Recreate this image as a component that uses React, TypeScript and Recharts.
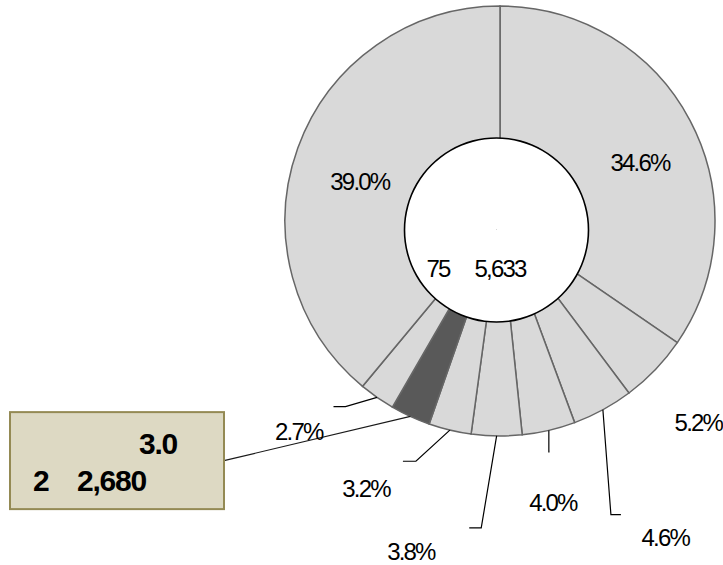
import { PieChart, Pie, Cell } from "recharts";

// share of each segment, clockwise from 12 o'clock
const SHARES = [34.6, 5.2, 4.6, 4.0, 3.8, 3.2, 3.0, 2.7, 39.0];
const HIGHLIGHT = 6;
const CENTER_TEXT = ["75", "5,633"];
const CALLOUT_TOP = "3.0";
const CALLOUT_BOTTOM = ["2", "2,680"];
const HOLE = [1];

const data = SHARES.map((v, i) => ({ name: `s${i + 1}`, value: v }));
const holeData = HOLE.map((v) => ({ name: "hole", value: v }));

const FONT = "'Liberation Sans', Arial, sans-serif";
const LIGHT = "#d9d9d9";
const DARK = "#595959";

// label placement, relative to slice middle: r = fraction of outer radius, da = degrees clockwise
type Place = { r: number; da: number; elbow?: [number, number]; tail?: number } | null;
const PLACES: Place[] = [
  { r: 0.705, da: 5.2 },
  { r: 1.316, da: 1.7 },
  { r: 1.66, da: 1, elbow: [1.46, 7.9], tail: 10 },
  { r: 1.334, da: 2.5, elbow: [1.1, 1.2] },
  { r: 1.591, da: 14.2, elbow: [1.43, 2.6], tail: -12 },
  { r: 1.392, da: 13.1, elbow: [1.184, 5.8], tail: -13 },
  null,
  { r: 1.355, da: 8.8, elbow: [1.123, 4.9], tail: -12 },
  { r: 0.677, da: -4.2 },
];

// callout box for the highlighted slice
const BOX_W = 214;
const BOX_H = 97;
const BOX_ANCHOR = { r: 1.7, da: 24.4 };

const polar = (cx: number, cy: number, R: number, a: number) => {
  const t = (a * Math.PI) / 180;
  return { x: cx + R * Math.sin(t), y: cy - R * Math.cos(t) };
};

const renderLabel = (p: any) => {
  const { cx, cy, outerRadius, midAngle, index, value } = p;
  const a = 90 - midAngle; // clockwise from top
  const start = polar(cx, cy, outerRadius, a);

  if (index === HIGHLIGHT) {
    const end = polar(cx, cy, outerRadius * BOX_ANCHOR.r, a + BOX_ANCHOR.da);
    const bx = end.x - BOX_W;
    const by = end.y - BOX_H / 2;
    return (
      <g key={`l${index}`}>
        <line x1={start.x} y1={start.y} x2={end.x} y2={end.y} stroke="#1a1a1a" strokeWidth={1.2} />
        <rect x={bx} y={by} width={BOX_W} height={BOX_H} fill="#ddd9c3" stroke="#948a54" strokeWidth={2} />
        <text x={bx + 129} y={by + 31} fontFamily={FONT} fontWeight={700} fontSize={30} letterSpacing={-1.2} dominantBaseline="central" fill="#000">
          {CALLOUT_TOP}
        </text>
        <text y={by + 68} fontFamily={FONT} fontWeight={700} fontSize={30} letterSpacing={-1.2} dominantBaseline="central" fill="#000">
          <tspan x={bx + 23}>{CALLOUT_BOTTOM[0]}</tspan>
          <tspan x={bx + 67}>{CALLOUT_BOTTOM[1]}</tspan>
        </text>
      </g>
    );
  }

  const place = PLACES[index];
  if (!place) return null;
  const pos = polar(cx, cy, outerRadius * place.r, a + place.da);
  let path: string | null = null;
  if (place.elbow) {
    const e = polar(cx, cy, outerRadius * place.elbow[0], a + place.elbow[1]);
    path = `M${start.x},${start.y}L${e.x},${e.y}`;
    if (place.tail) path += `L${e.x + place.tail},${e.y}`;
  }
  return (
    <g key={`l${index}`}>
      {path && <path d={path} fill="none" stroke="#000" strokeWidth={1.2} />}
      <text x={pos.x} y={pos.y} textAnchor="middle" dominantBaseline="central" fontFamily={FONT} fontSize={24} letterSpacing={-1.8} fill="#000">
        {`${Number(value).toFixed(1)}%`}
      </text>
    </g>
  );
};

const renderCenter = (p: any) => {
  const { cx, cy } = p;
  return (
    <text key="center" y={cy + 38} dominantBaseline="central" fontFamily={FONT} fontSize={24} letterSpacing={-1.8} fill="#000">
      <tspan x={cx - 70}>{CENTER_TEXT[0]}</tspan>
      <tspan x={cx - 22}>{CENTER_TEXT[1]}</tspan>
    </text>
  );
};

export default function App() {
  return (
    <div style={{ position: "absolute", left: 0, top: 0, width: 723, height: 565, background: "#fff" }}>
      <PieChart width={723} height={565} margin={{ top: 0, right: 0, bottom: 0, left: 0 }}>
        <Pie
          data={data}
          dataKey="value"
          cx={500}
          cy={221}
          innerRadius={0}
          outerRadius={215}
          startAngle={90}
          endAngle={-270}
          stroke="#666666"
          strokeWidth={1.5}
          label={renderLabel}
          labelLine={false}
          isAnimationActive={false}
        >
          {data.map((_, i) => (
            <Cell key={i} fill={i === HIGHLIGHT ? DARK : LIGHT} />
          ))}
        </Pie>
        {/* white hole, then its black rim */}
        <Pie
          data={holeData}
          dataKey="value"
          cx={496.5}
          cy={230}
          innerRadius={0}
          outerRadius={92}
          startAngle={90}
          endAngle={-270}
          fill="#ffffff"
          stroke="none"
          label={renderCenter}
          labelLine={false}
          isAnimationActive={false}
        />
        <Pie
          data={holeData}
          dataKey="value"
          cx={496.5}
          cy={230}
          innerRadius={91.2}
          outerRadius={92.8}
          startAngle={90}
          endAngle={-270}
          fill="#000000"
          stroke="none"
          isAnimationActive={false}
        />
      </PieChart>
    </div>
  );
}
